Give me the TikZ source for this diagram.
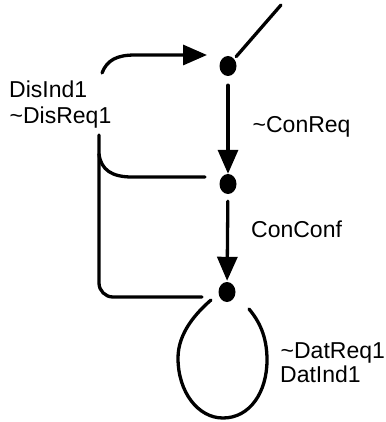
\documentclass[tikz,border=0pt]{standalone}
\usepackage{fontspec}
\setmainfont{Liberation Sans}
\usetikzlibrary{arrows.meta,shapes.geometric}

\tikzset{
  state/.style={ellipse, fill=black, inner sep=0pt, minimum width=17pt, minimum height=20pt},
  lbl/.style={anchor=base west, inner sep=0pt, font=\fontsize{23}{26}\selectfont},
  wire/.style={line width=3.3pt, line cap=round},
  arr/.style={wire, -{Triangle[length=24pt,width=20pt]}}
}

\begin{document}
\begin{tikzpicture}[x=1pt, y=-1pt]
  \useasboundingbox (0,0) rectangle (385,422);

  % states
  \node[state] (s1) at (228,66) {};
  \node[state] (s2) at (228,184) {};
  \node[state] (s3) at (227,292) {};

  % labels
  \node[lbl] (disind)  at (9,97.5)  {DisInd1};
  \node[lbl] (disreq)  at (9.5,124) {\textasciitilde DisReq1};
  \node[lbl] (conreq)  at (252.5,133) {\textasciitilde ConReq};
  \node[lbl] (conconf) at (251,237) {ConConf};
  \node[lbl] (datreq)  at (280.5,358) {\textasciitilde DatReq1};
  \node[lbl] (datind)  at (280,382) {DatInd1};

  % free ends
  \coordinate (exit)  at (281,5);
  \coordinate (d0)    at (102,73);
  \coordinate (in1)   at ([shift={(-21,-11)}]s1.center);
  \coordinate (v0)    at (99,135);
  \coordinate (in2)   at ([shift={(-23,-7)}]s2.center);
  \coordinate (in3)   at ([shift={(-25,5)}]s3.center);
  \coordinate (lpA)   at ([shift={(-16,8)}]s3.center);
  \coordinate (lpB)   at ([shift={(22,17)}]s3.center);

  % exit line from the first state
  \draw[wire, shorten <=3pt] (s1) -- (exit);

  % entry into the first state
  \draw[arr] (d0) .. controls (107,60) and (117,55) .. (135,55) -- (in1);

  % main transitions
  \draw[arr, shorten <=9pt] (s1) -- (s2);
  \draw[arr, shorten <=7pt, shorten >=1pt] (s2) -- (s3);

  % branches from the disconnect labels
  \draw[wire, rounded corners=14pt] (v0) -- (99,297) -- (in3);
  \draw[wire] (99,154) .. controls (101,170) and (112,177) .. (132,177) -- (in2);

  % self loop on the last state
  \draw[wire] (lpA) .. controls (196,313) and (178,333) .. (178,358)
    .. controls (178,392) and (198,418) .. (223,418)
    .. controls (250,418) and (267,392) .. (267,360)
    .. controls (267,336) and (259,321) .. (lpB);
\end{tikzpicture}
\end{document}
